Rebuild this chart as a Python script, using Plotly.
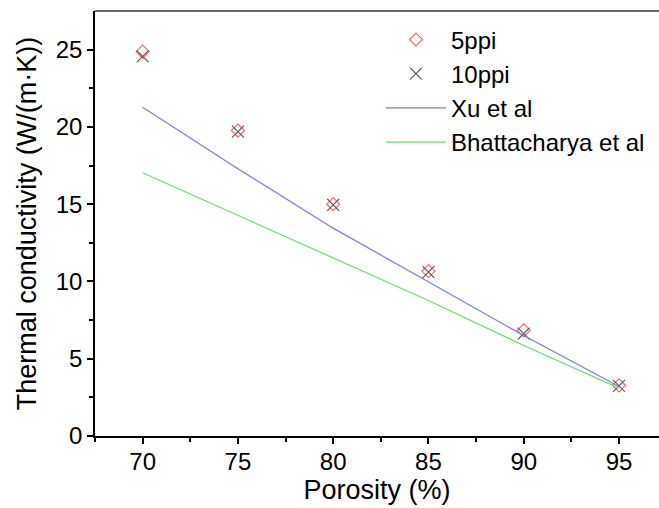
import plotly.graph_objects as go

porosity = [70, 75, 80, 85, 90, 95]
k_5ppi = [24.87, 19.76, 15.0, 10.67, 6.83, 3.28]
k_10ppi = [24.56, 19.7, 14.95, 10.6, 6.62, 3.25]
k_xu = [21.27, 17.3, 13.45, 9.95, 6.5, 3.2]
k_bhatt = [17.03, 14.27, 11.5, 8.77, 5.86, 3.1]

FONT = "Liberation Sans, Arial, sans-serif"

fig = go.Figure()
fig.add_trace(go.Scatter(x=porosity, y=k_5ppi, mode="markers", name="5ppi",
                         marker=dict(symbol="diamond-open", size=10,
                                     color="#FF6666", line=dict(width=1.2, color="#FF6666"))))
fig.add_trace(go.Scatter(x=porosity, y=k_10ppi, mode="markers", name="10ppi",
                         marker=dict(symbol="x-thin-open", size=12,
                                     line=dict(width=1.1, color="#555555"), color="#555555")))
fig.add_trace(go.Scatter(x=porosity, y=k_xu, mode="lines", name="Xu et al",
                         line=dict(color="#7777FF", width=1.2)))
fig.add_trace(go.Scatter(x=porosity, y=k_bhatt, mode="lines", name="Bhattacharya et al",
                         line=dict(color="#66E066", width=1.2)))

# top frame line of the plot area
fig.add_shape(type="line", xref="paper", yref="paper", x0=0, x1=1, y0=1, y1=1,
              line=dict(color="#333333", width=1.5), layer="above")

fig.update_layout(
    template="none",
    width=659, height=508,
    margin=dict(l=95, r=0, t=11, b=72, autoexpand=False),
    paper_bgcolor="white", plot_bgcolor="white",
    font=dict(family=FONT, size=24, color="black"),
    showlegend=True,
    legend=dict(x=0.507, y=0.985, xanchor="left", yanchor="top",
                bgcolor="rgba(0,0,0,0)", font=dict(size=24), itemwidth=60,
                tracegroupgap=0, borderwidth=0),
    xaxis=dict(range=[67.5, 97.1], tickvals=[70, 75, 80, 85, 90, 95],
               automargin=False, ticklabelstandoff=-3,
               ticks="outside", ticklen=6, tickwidth=1.5, tickcolor="black",
               showline=True, linecolor="black", linewidth=1.5, mirror=False,
               showgrid=False, zeroline=False,
               minor=dict(tickvals=[67.5, 72.5, 77.5, 82.5, 87.5, 92.5],
                          ticks="outside", ticklen=4, tickwidth=1.5, tickcolor="black",
                          showgrid=False),
               title=dict(text="Porosity (%)", font=dict(size=27), standoff=0),
               tickfont=dict(size=24)),
    yaxis=dict(range=[0, 27.5], tickvals=[0, 5, 10, 15, 20, 25],
               automargin=False, mirror=False,
               ticks="outside", ticklen=6, tickwidth=1.5, tickcolor="black",
               showline=True, linecolor="black", linewidth=1.5,
               showgrid=False, zeroline=False,
               minor=dict(tickvals=[2.5, 7.5, 12.5, 17.5, 22.5],
                          ticks="outside", ticklen=4, tickwidth=1.5, tickcolor="black",
                          showgrid=False),
               title=dict(text="Thermal conductivity (W/(m·K))", font=dict(size=27), standoff=11),
               tickfont=dict(size=24)),
)

fig.write_html("out.html", config={"displayModeBar": False},
               post_script="document.body.style.margin='0';document.body.style.overflow='hidden';")
